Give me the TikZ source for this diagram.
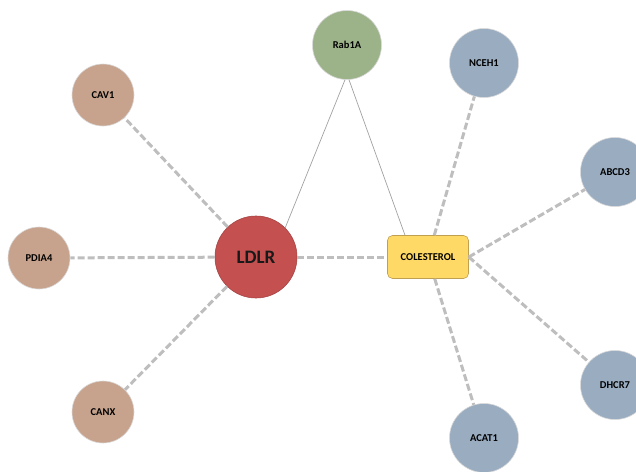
\documentclass[tikz,border=0pt]{standalone}
\usepackage{fontspec}
\setmainfont{Carlito}
\definecolor{ldlr}{RGB}{196,80,80}
\definecolor{chol}{RGB}{255,217,102}
\definecolor{cholb}{RGB}{190,160,80}
\definecolor{tan}{RGB}{199,162,140}
\definecolor{bluegray}{RGB}{153,172,192}
\definecolor{sage}{RGB}{156,179,138}
\definecolor{edgegray}{RGB}{190,190,190}
\begin{document}
\begin{tikzpicture}[x=1pt,y=-1pt,
  gene/.style={circle,draw=white!85!black,line width=0.6pt,minimum size=64pt,inner sep=0pt,text=black,font=\bfseries\fontsize{10.5}{12}\selectfont},
  tannode/.style={gene,fill=tan,minimum size=62pt},
  bluenode/.style={gene,fill=bluegray,minimum size=69pt},
  greennode/.style={gene,fill=sage,minimum size=69pt},
  dashedge/.style={draw=edgegray,line width=3pt,dash pattern=on 7pt off 3pt},
  thinedge/.style={draw=edgegray!85!black,line width=0.7pt}]
\useasboundingbox (0,0) rectangle (636,471);
\node[circle,fill=ldlr,draw=ldlr!85!black,line width=0.6pt,minimum size=82pt,inner sep=0pt,text=black!90,font=\bfseries\fontsize{19}{20}\selectfont] (ldlr) at (256,257) {LDLR};
\node[rectangle,rounded corners=5pt,fill=chol,draw=cholb,line width=0.6pt,minimum width=81pt,minimum height=43pt,inner sep=0pt,text=black,font=\bfseries\fontsize{10.5}{12}\selectfont] (chol) at (428,257) {COLESTEROL};
\node[greennode] (rab) at (347,45) {Rab1A};
\node[bluenode] (nceh) at (484,63) {NCEH1};
\node[bluenode] (abcd) at (615,172) {ABCD3};
\node[bluenode] (dhcr) at (615,385) {DHCR7};
\node[bluenode] (acat) at (484,438) {ACAT1};
\node[tannode] (cav) at (103,95) {CAV1};
\node[tannode] (pdia) at (39,258) {PDIA4};
\node[tannode] (canx) at (103,412) {CANX};
\draw[dashedge] (ldlr) -- (cav);
\draw[dashedge] (ldlr) -- (pdia);
\draw[dashedge] (ldlr) -- (canx);
\draw[dashedge] (ldlr) -- (chol);
\draw[dashedge] (chol) -- (nceh);
\draw[dashedge] (chol.east) -- (abcd);
\draw[dashedge] (chol.east) -- (dhcr);
\draw[dashedge] (chol) -- (acat);
\draw[thinedge] ([xshift=-2pt]rab.south) -- (ldlr.45);
\draw[thinedge] ([xshift=2pt]rab.south) -- ([xshift=-23pt]chol.north);
\end{tikzpicture}
\end{document}
